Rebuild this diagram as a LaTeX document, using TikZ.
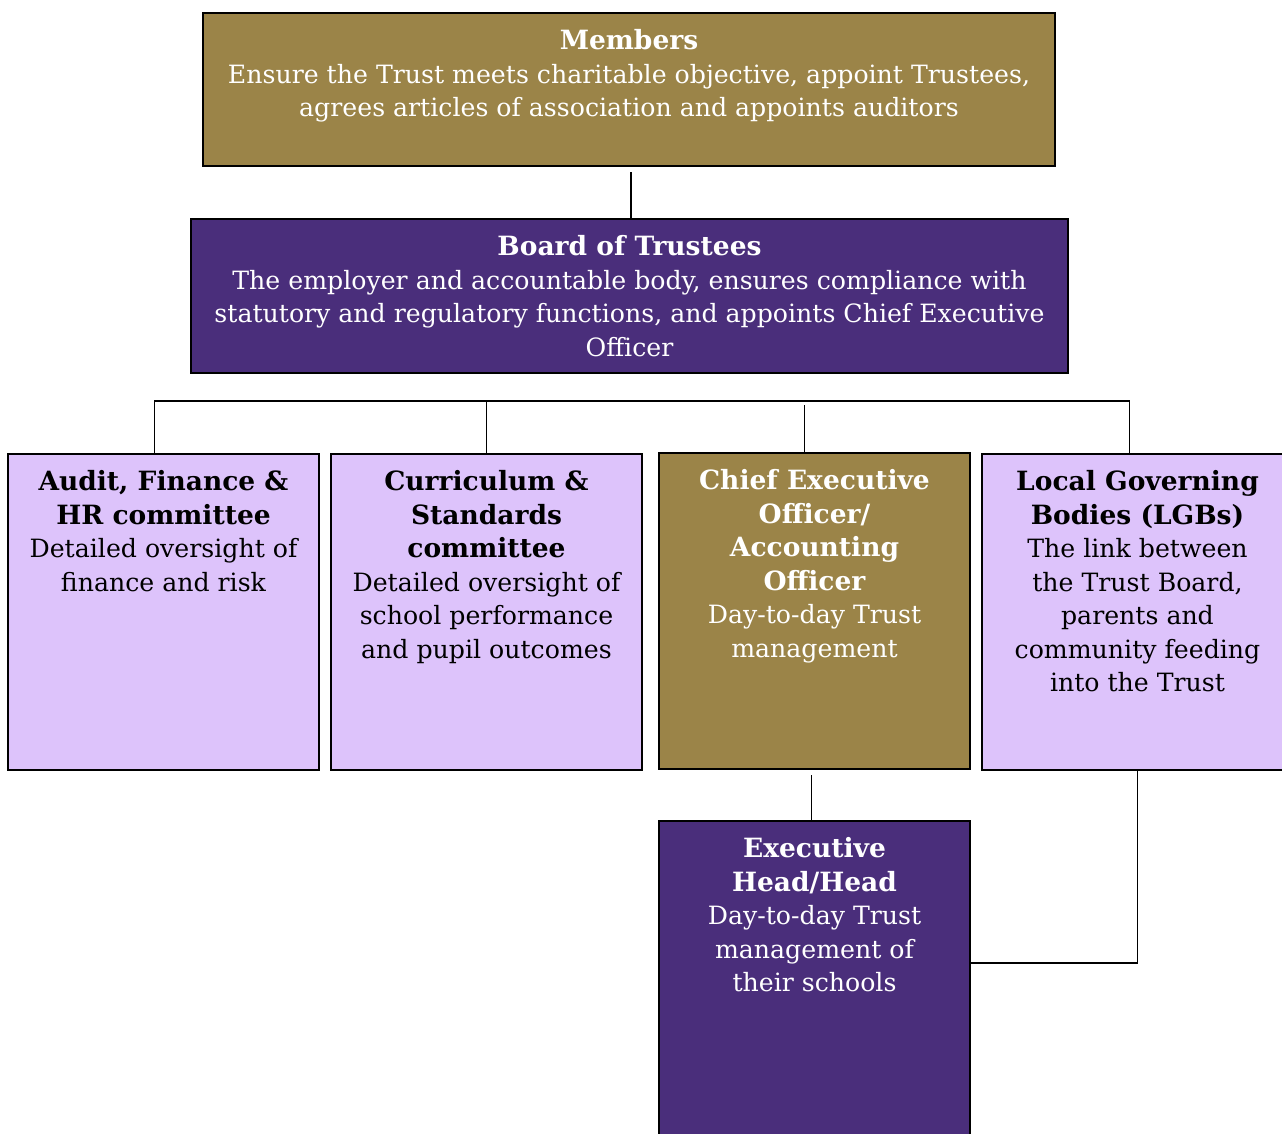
\documentclass[tikz,border=0pt]{standalone}
\usepackage{fontspec}
\setmainfont{DejaVu Serif}
\usetikzlibrary{positioning}

\definecolor{trustgold}{RGB}{155,132,72}
\definecolor{trustpurple}{RGB}{74,46,123}
\definecolor{trustlilac}{RGB}{221,195,251}

\newcommand{\boxhead}[1]{{\fontsize{26.5}{33.5}\selectfont\bfseries #1}}

\begin{document}
\begin{tikzpicture}[x=1pt, y=-1pt, font=\fontsize{25.2}{33.5}\selectfont]
  \tikzstyle{box}=[draw=black, line width=2pt, inner sep=0pt, minimum height=316pt, minimum width=311pt]
  \tikzstyle{boxtext}=[inner sep=0pt, align=center, anchor=north, yshift=-17.5pt]
  \tikzstyle{link}=[line width=1.3pt]
  \useasboundingbox (0,0) rectangle (1282,1133);

  % top of the tree
  \node[box, fill=trustgold, minimum width=852pt, minimum height=153pt]   (members) at (629,89.5) {};
  \node[box, fill=trustpurple, minimum width=877pt, minimum height=154pt] (board)   at (629.5,296) {};
  \node[boxtext, text=white] (members-txt) at (members.north)
    {\boxhead{Members}\\Ensure the Trust meets charitable objective, appoint Trustees,\\agrees articles of association and appoints auditors};
  \node[boxtext, text=white] (board-txt) at (board.north)
    {\boxhead{Board of Trustees}\\The employer and accountable body, ensures compliance with\\statutory and regulatory functions, and appoints Chief Executive\\Officer};

  % committees and officers
  \node[box, fill=trustlilac]  (audit) at (163.5,612)  {};
  \node[box, fill=trustlilac]  (curr)  at (486.5,612)  {};
  \node[box, fill=trustgold]   (ceo)   at (814.5,611)  {};
  \node[box, fill=trustlilac]  (lgb)   at (1137.5,612) {};
  \node[box, fill=trustpurple] (exec)  at (814.5,979)  {};

  \node[boxtext] (audit-txt) at (audit.north)
    {\boxhead{Audit, Finance \&}\\\boxhead{HR committee}\\Detailed oversight of\\finance and risk};
  \node[boxtext] (curr-txt) at (curr.north)
    {\boxhead{Curriculum \&}\\\boxhead{Standards}\\\boxhead{committee}\\Detailed oversight of\\school performance\\and pupil outcomes};
  \node[boxtext, text=white] (ceo-txt) at (ceo.north)
    {\boxhead{Chief Executive}\\\boxhead{Officer/}\\\boxhead{Accounting}\\\boxhead{Officer}\\Day-to-day Trust\\management};
  \node[boxtext] (lgb-txt) at (lgb.north)
    {\boxhead{Local Governing}\\\boxhead{Bodies (LGBs)}\\The link between\\the Trust Board,\\parents and\\community feeding\\into the Trust};
  \node[boxtext, text=white] (exec-txt) at (exec.north)
    {\boxhead{Executive}\\\boxhead{Head/Head}\\Day-to-day Trust\\management of\\their schools};

  % connectors
  \coordinate (bus) at (0,401);
  \draw[link] ([xshift=1.5pt]board.north) -- ([xshift=1.5pt,yshift=-5pt]board.north |- members.south);
  \draw[link] ([xshift=-9pt]audit.north) |- ([xshift=-8pt]lgb.north |- bus) -- ([xshift=-8pt]lgb.north);
  \draw[link] (curr.north) -- (curr.north |- bus);
  \draw[link] ([xshift=-10pt]ceo.north) -- ([xshift=-10pt,yshift=-4pt]ceo.north |- bus);
  \draw[link] ([xshift=-3pt,yshift=-5pt]ceo.south) -- ([xshift=-3pt]exec.north);
  \draw[link] (lgb.south) |- ([yshift=16pt]exec.east);
\end{tikzpicture}
\end{document}
